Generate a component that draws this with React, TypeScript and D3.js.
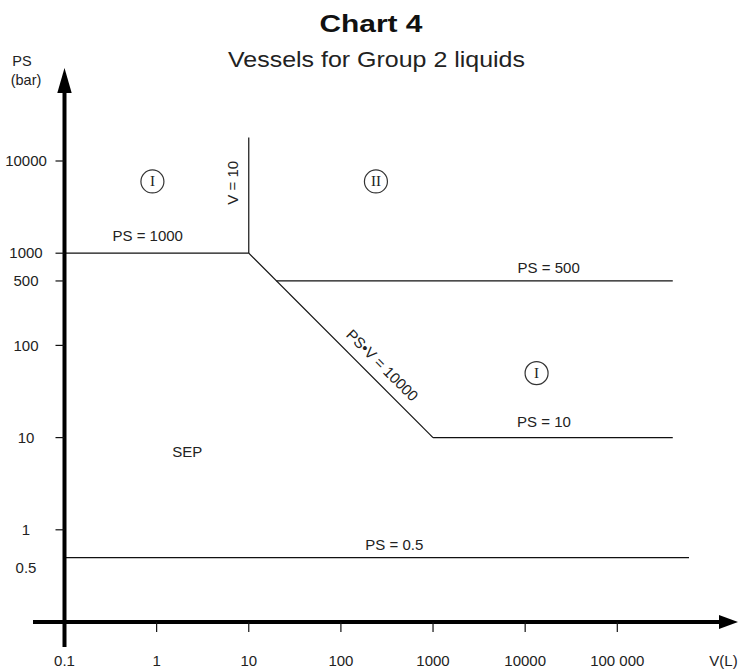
import React from "react";
import * as d3 from "d3";

const W = 738;
const H = 671;

// Axis ticks
const xTickValues = [0.1, 1, 10, 100, 1000, 10000, 100000];
const xTickLabels = ["0.1", "1", "10", "100", "1000", "10000", "100 000"];
const yTickValues = [10000, 1000, 500, 100, 10, 1, 0.5];
const yTickLabels = ["10000", "1000", "500", "100", "10", "1", "0.5"];
const yTickMarks = [10000, 1000, 500, 100, 10, 1];

// Boundary segments: [V, PS] endpoints
const boundaryNames = ["PS = 1000", "V = 10", "PS•V = 10000", "PS = 500", "PS = 10", "PS = 0.5"];
const boundaryFrom: [number, number][] = [[0.1, 1000], [10, 1000], [10, 1000], [20, 500], [1000, 10], [0.1, 0.5]];
const boundaryTo: [number, number][] = [[10, 1000], [10, 18000], [1000, 10], [400000, 500], [400000, 10], [600000, 0.5]];

// Horizontal line labels
const hLabels = ["PS = 1000", "PS = 500", "PS = 10", "PS = 0.5"];
const hLabelV = [0.8, 18000, 16000, 380];
const hLabelPS = [1000, 500, 10, 0.5];
const hLabelDy = [-12, -8, -11, -8];

// Category markers
const catLabels = ["I", "II", "I"];
const catV = [0.9, 240, 13300];
const catPS = [6000, 6000, 50];

const sepV = 2.15;
const sepPS = 7;

const vLabelPS = 5800;
const diagLabelV = 215;

export default function App() {
  const x = d3.scaleLog().domain([0.1, 100000]).range([64.5, 617.3]);
  const y = d3.scaleLog().domain([0.1, 10000]).range([622, 161]);
  const line = d3
    .line<[number, number]>()
    .x((d) => x(d[0]))
    .y((d) => y(d[1]));

  const x0 = x(0.1);
  const y0 = y(0.1);
  const font = "'Liberation Sans', Arial, sans-serif";
  const txt = "#222";

  const diagX = x(diagLabelV);
  const diagY = y(10000 / diagLabelV);

  return (
    <svg
      width={W}
      height={H}
      style={{ position: "absolute", left: 0, top: 0, background: "#fff" }}
      fontFamily={font}
    >
      <rect x={0} y={0} width={W} height={H} fill="#fff" />
      {/* Title */}
      <text x={371} y={32} textAnchor="middle" fontSize={24} fontWeight="bold" fill="#111" textLength={103} lengthAdjust="spacingAndGlyphs">
        Chart 4
      </text>
      <text x={376.5} y={67} textAnchor="middle" fontSize={22} fill={txt} textLength={297} lengthAdjust="spacingAndGlyphs">
        Vessels for Group 2 liquids
      </text>

      {/* Y axis label */}
      <text x={22} y={66} textAnchor="middle" fontSize={14.5} fill={txt}>PS</text>
      <text x={26} y={85} textAnchor="middle" fontSize={14.5} fill={txt}>(bar)</text>

      {/* Boundary lines */}
      {boundaryNames.map((n, i) => (
        <path key={n} d={line([boundaryFrom[i], boundaryTo[i]]) || ""} stroke="#111" strokeWidth={1.2} fill="none" />
      ))}

      {/* Horizontal labels */}
      {hLabels.map((l, i) => (
        <text key={i} x={x(hLabelV[i])} y={y(hLabelPS[i]) + hLabelDy[i]} textAnchor="middle" fontSize={15} fill={txt}>
          {l}
        </text>
      ))}

      {/* V = 10 label */}
      <text
        transform={`translate(${x(10) - 11},${y(vLabelPS)}) rotate(-90)`}
        textAnchor="middle"
        fontSize={15}
        fill={txt}
      >
        V = 10
      </text>

      {/* Diagonal label */}
      <text
        transform={`translate(${diagX},${diagY}) rotate(45)`}
        dy={-10}
        textAnchor="middle"
        fontSize={15}
        fill={txt}
      >
        PS•V = 10000
      </text>

      {/* Category circles */}
      {catLabels.map((c, i) => (
        <g key={i} transform={`translate(${x(catV[i])},${y(catPS[i])})`}>
          <circle r={11.5} fill="none" stroke="#333" strokeWidth={1.2} />
          <text y={5} textAnchor="middle" fontSize={15} fontFamily="'Liberation Serif', 'Times New Roman', serif" fill={txt}>
            {c}
          </text>
        </g>
      ))}

      <text x={x(sepV)} y={y(sepPS) + 5} textAnchor="middle" fontSize={15} fill={txt}>SEP</text>

      {/* Y axis */}
      <line x1={x0} x2={x0} y1={647} y2={88} stroke="#000" strokeWidth={4} />
      <polygon points={`${x0},68 ${x0 - 7.2},93 ${x0 + 7.2},93`} fill="#000" />
      {yTickMarks.map((v) => (
        <line key={v} x1={x0 - 9} x2={x0} y1={y(v)} y2={y(v)} stroke="#111" strokeWidth={1.2} />
      ))}
      {yTickValues.map((v, i) => (
        <text key={v} x={26} y={y(v) + (v === 0.5 ? 10 : 0)} dy="0.35em" textAnchor="middle" fontSize={15} fill={txt}>
          {yTickLabels[i]}
        </text>
      ))}

      {/* X axis */}
      <line x1={33} x2={722} y1={y0} y2={y0} stroke="#000" strokeWidth={4} />
      <polygon points={`738,${y0} 719,${y0 - 7} 719,${y0 + 7}`} fill="#000" />
      {xTickValues.slice(1).map((v) => (
        <line key={v} x1={x(v)} x2={x(v)} y1={y0} y2={y0 + 10} stroke="#111" strokeWidth={1.2} />
      ))}
      {xTickValues.map((v, i) => (
        <text key={v} x={x(v)} y={666} textAnchor="middle" fontSize={15} fill={txt}>
          {xTickLabels[i]}
        </text>
      ))}
      <text x={723.5} y={666} textAnchor="middle" fontSize={15} fill={txt}>V(L)</text>
    </svg>
  );
}
